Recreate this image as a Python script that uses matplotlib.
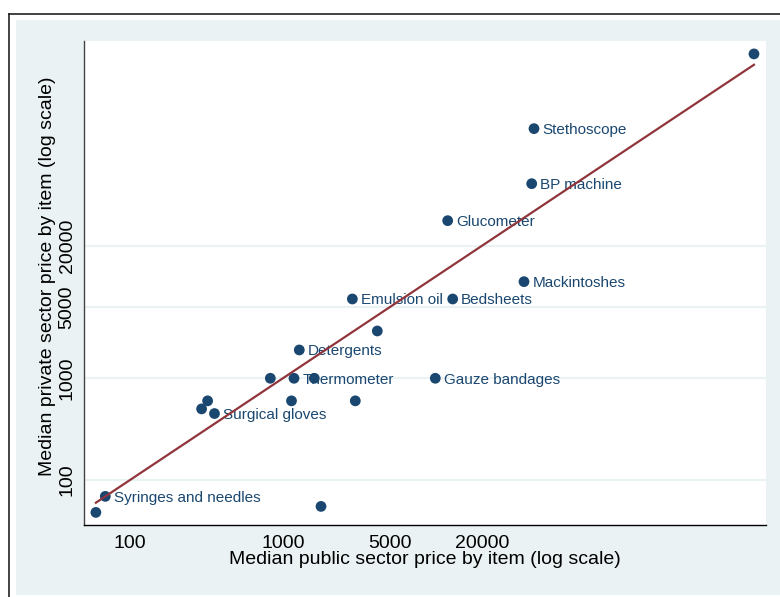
import matplotlib
matplotlib.use('Agg')
import matplotlib.pyplot as plt
from matplotlib.patches import Rectangle
from matplotlib.lines import Line2D
from matplotlib.ticker import FixedLocator, FixedFormatter, NullLocator

# Median prices by item (public vs private sector)
items = ['', 'Stethoscope', 'BP machine', 'Glucometer', 'Mackintoshes',
         'Bedsheets', 'Emulsion oil', '', 'Detergents', '', 'Thermometer',
         '', '', '', '', '', 'Surgical gloves', 'Syringes and needles',
         '', '', 'Gauze bandages']
public_price = [1209000, 43970, 42480, 11980, 37820,
                12920, 2850, 4150, 1281, 828, 1183,
                1606, 1139, 2979, 294, 322, 357, 68.9,
                59.8, 1777, 9940]
private_price = [1545000, 284700, 81900, 35450, 8910,
                 6020, 6020, 2918, 1898, 1000, 1000,
                 1000, 600, 600, 500, 600, 450, 69,
                 48, 55, 1000]

tick_values = [100, 1000, 5000, 20000]
tick_labels = ['100', '1000', '5000', '20000']

NAVY = '#1A476F'
MAROON = '#90353B'
BG = '#EAF2F3'

matplotlib.rc('font', **{'size': 14, 'sans-serif': 'Liberation Sans', 'family': 'sans-serif'})

fig = plt.figure(figsize=(7.8, 5.97), dpi=100)
fig.patch.set_facecolor('white')

# Stata-like graph region
fig.patches.append(Rectangle((16 / 780., 2 / 597.), 1 - 16 / 780., 575 / 597.,
                             transform=fig.transFigure, facecolor=BG,
                             edgecolor='none', zorder=-10))
fig.lines.append(Line2D([8.5 / 780., 1.0], [583 / 597., 583 / 597.],
                        transform=fig.transFigure, color='#222222', lw=1.2))
fig.lines.append(Line2D([8.5 / 780., 8.5 / 780.], [0, 583 / 597.],
                        transform=fig.transFigure, color='#222222', lw=1.2))

ax = fig.add_axes([84 / 780., 72 / 597., 682 / 780., 484 / 597.])
ax.set_facecolor('white')
ax.set_xscale('log')
ax.set_yscale('log')
ax.set_xlim(50.0, 1.449e6)
ax.set_ylim(36.1, 2.07e6)

for side in ['top', 'right']:
    ax.spines[side].set_visible(False)
ax.spines['left'].set_color('#444444')
ax.spines['bottom'].set_color('black')
ax.spines['left'].set_linewidth(1.0)
ax.spines['bottom'].set_linewidth(1.0)

for axis in [ax.xaxis, ax.yaxis]:
    axis.set_major_locator(FixedLocator(tick_values))
    axis.set_major_formatter(FixedFormatter(tick_labels))
    axis.set_minor_locator(NullLocator())
ax.tick_params(axis='both', which='both', length=0)
ax.tick_params(axis='x', pad=7)
ax.tick_params(axis='y', pad=6)
for lab in ax.get_yticklabels():
    lab.set_rotation(90)
    lab.set_va('center')
ax.grid(True, axis='y', color=BG, lw=1.6)
ax.set_axisbelow(True)

# Line of equality over the observed range
lo, hi = min(public_price), max(public_price)
ax.plot([lo, hi], [lo, hi], color=MAROON, lw=1.6, zorder=4)

ax.scatter(public_price, private_price, s=60, color=NAVY, edgecolors='none',
           zorder=3, clip_on=False)
for name, x, y in zip(items, public_price, private_price):
    if name:
        ax.annotate(name, (x, y), xytext=(6, -1), textcoords='offset points',
                    fontsize=11, color=NAVY, va='center', ha='left', zorder=2)

ax.set_xlabel('Median public sector price by item (log scale)')
ax.set_ylabel('Median private sector price by item (log scale)')
ax.xaxis.set_label_coords(0.5, -0.053)
ax.yaxis.set_label_coords(-0.041, 0.514)

fig.savefig('out.png', dpi=100, facecolor='white')
